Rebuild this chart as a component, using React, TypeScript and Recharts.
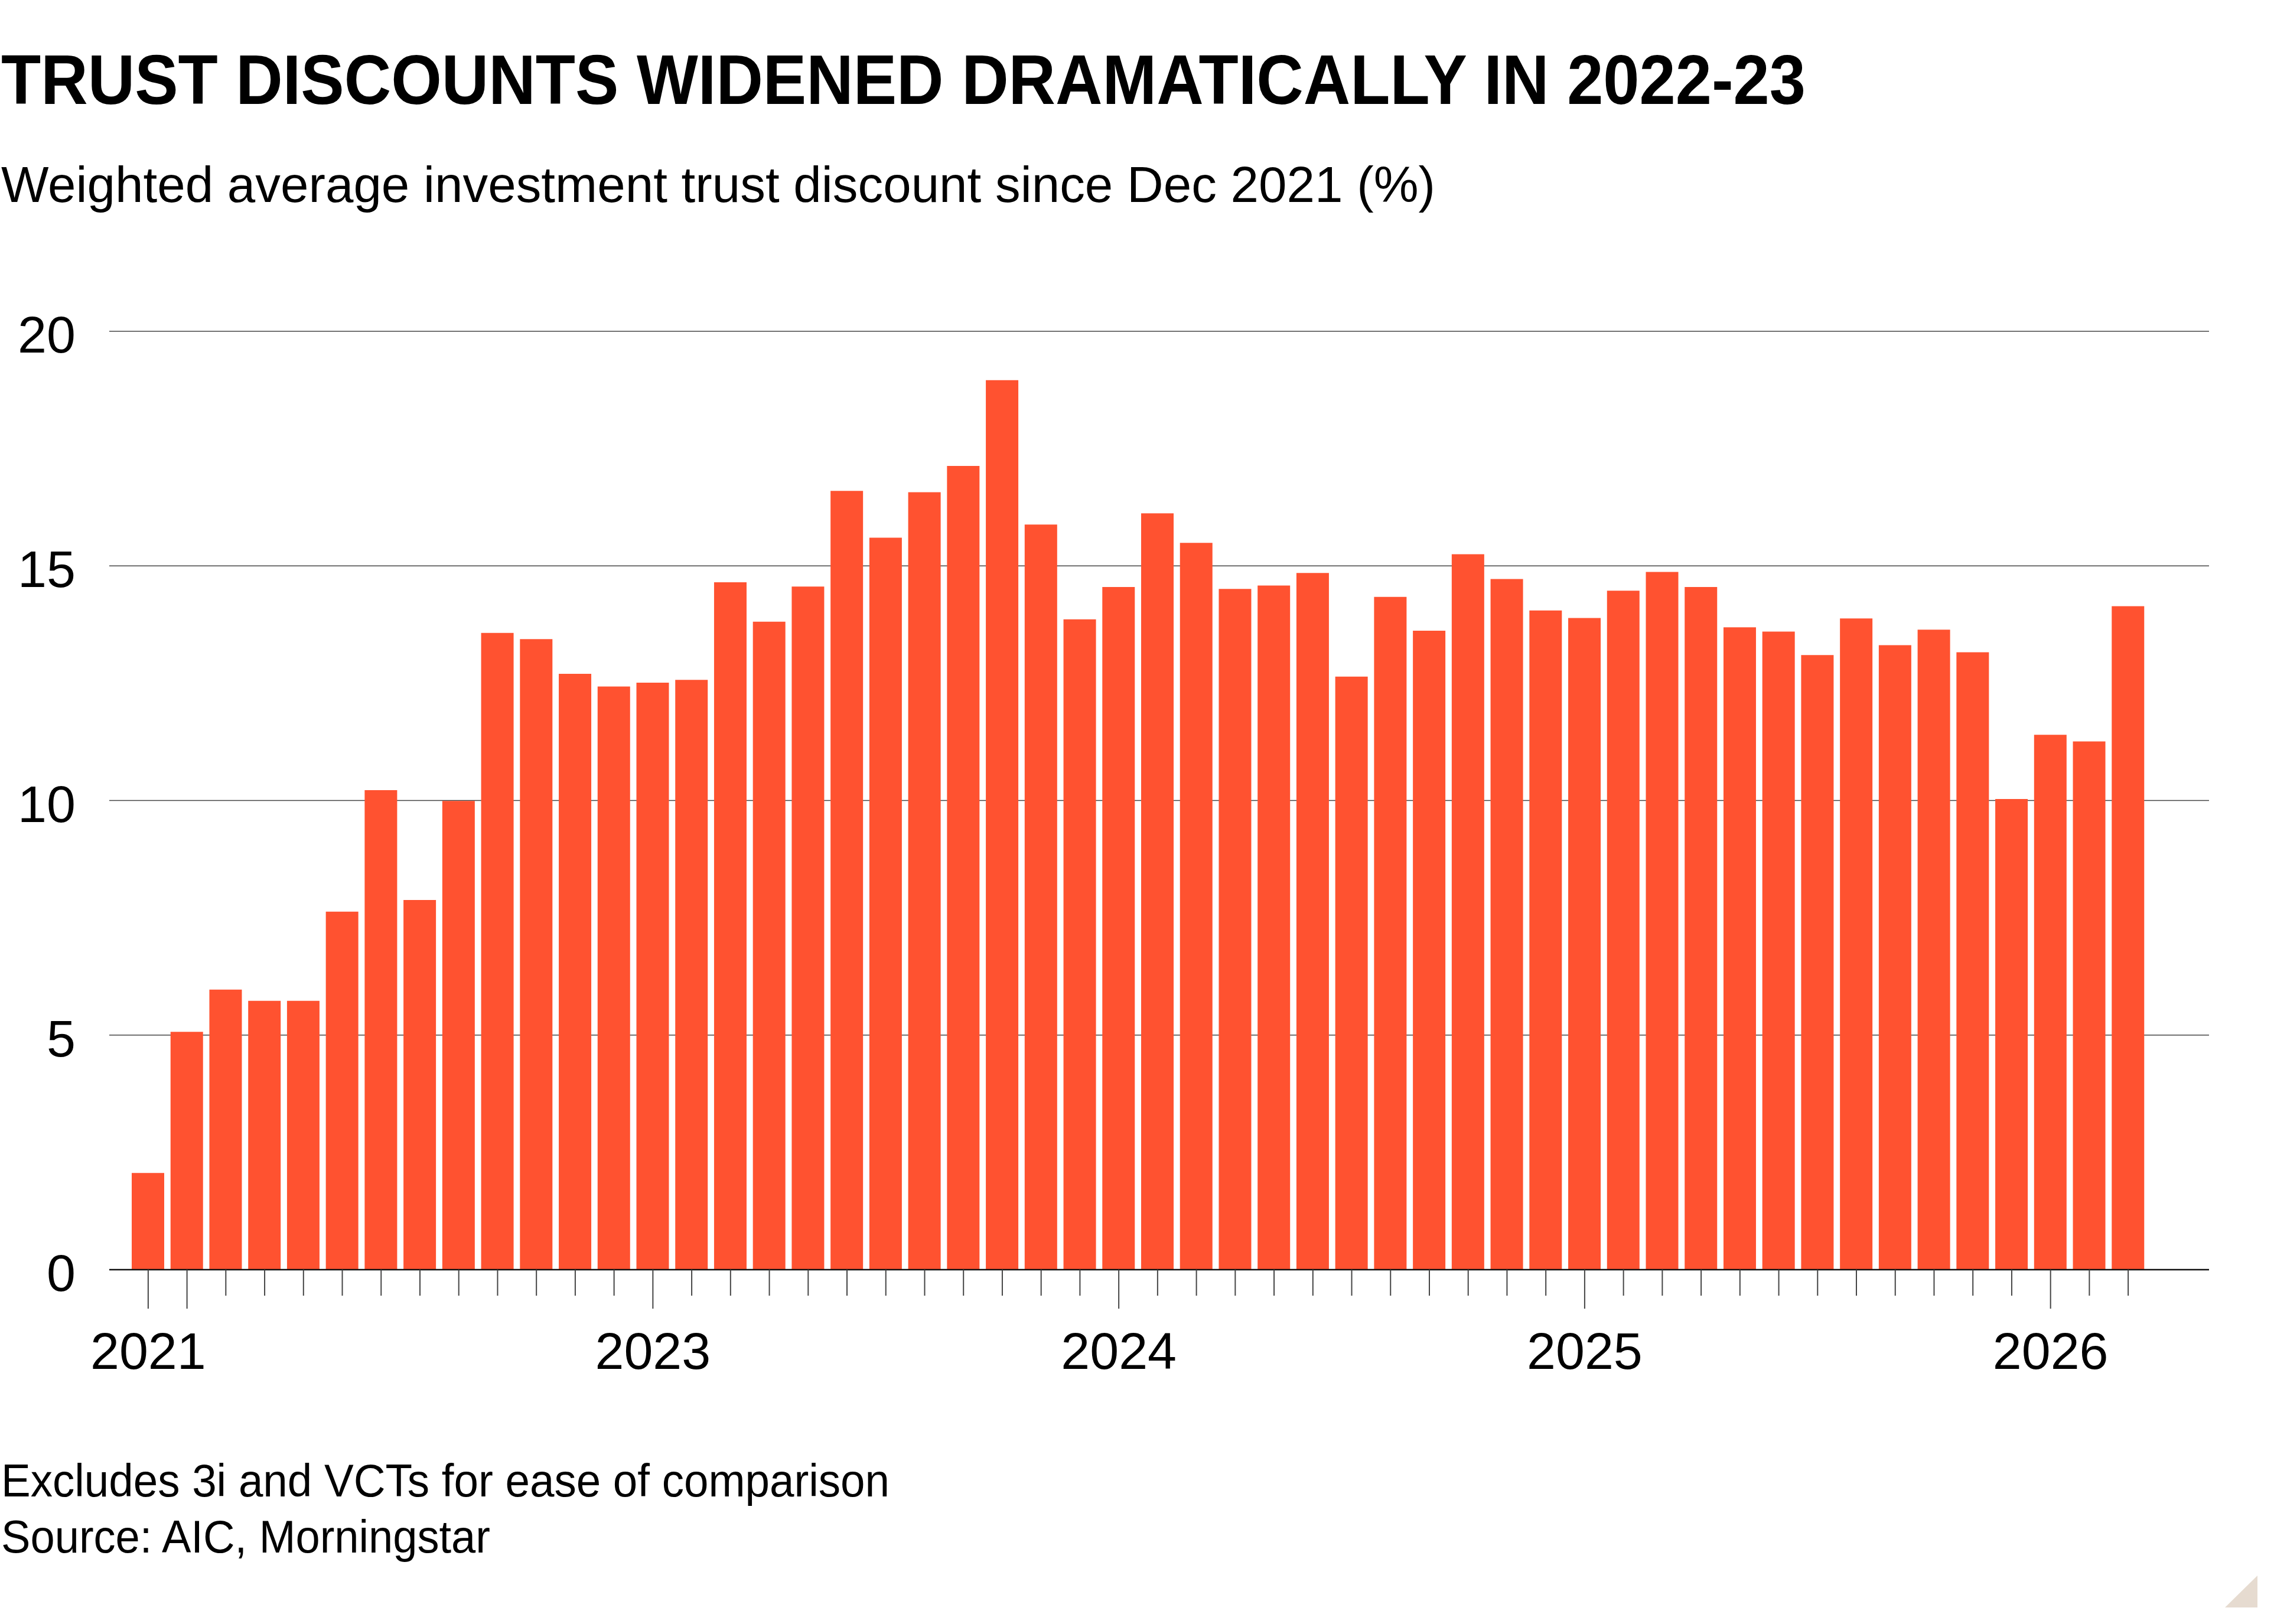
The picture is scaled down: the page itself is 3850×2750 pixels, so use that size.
import { BarChart, Bar, XAxis, YAxis, CartesianGrid } from 'recharts';

const months = [
  'Dec 2021',
  'Jan 2022', 'Feb 2022', 'Mar 2022', 'Apr 2022', 'May 2022', 'Jun 2022',
  'Jul 2022', 'Aug 2022', 'Sep 2022', 'Oct 2022', 'Nov 2022', 'Dec 2022',
  'Jan 2023', 'Feb 2023', 'Mar 2023', 'Apr 2023', 'May 2023', 'Jun 2023',
  'Jul 2023', 'Aug 2023', 'Sep 2023', 'Oct 2023', 'Nov 2023', 'Dec 2023',
  'Jan 2024', 'Feb 2024', 'Mar 2024', 'Apr 2024', 'May 2024', 'Jun 2024',
  'Jul 2024', 'Aug 2024', 'Sep 2024', 'Oct 2024', 'Nov 2024', 'Dec 2024',
  'Jan 2025', 'Feb 2025', 'Mar 2025', 'Apr 2025', 'May 2025', 'Jun 2025',
  'Jul 2025', 'Aug 2025', 'Sep 2025', 'Oct 2025', 'Nov 2025', 'Dec 2025',
  'Jan 2026', 'Feb 2026', 'Mar 2026',
];

const discount = [
  2.06,
  5.07, 5.97, 5.73, 5.73, 7.63, 10.22, 7.88, 9.99, 13.57, 13.44, 12.7, 12.43,
  12.51, 12.57, 14.65, 13.81, 14.56, 16.6, 15.6, 16.57, 17.13, 18.96, 15.88, 13.86,
  14.55, 16.12, 15.49, 14.51, 14.58, 14.85, 12.64, 14.34, 13.62, 15.25, 14.72, 14.05,
  13.89, 14.47, 14.87, 14.55, 13.69, 13.6, 13.1, 13.88, 13.31, 13.64, 13.16, 10.03,
  11.4, 11.26, 14.14,
];

// year labels and which months get a long tick
const yearLabels: Record<string, string> = {
  'Dec 2021': '2021',
  'Jan 2023': '2023',
  'Jan 2024': '2024',
  'Jan 2025': '2025',
  'Jan 2026': '2026',
};
const longTicks = ['Dec 2021', 'Jan 2022', 'Jan 2023', 'Jan 2024', 'Jan 2025', 'Jan 2026'];

const yTicks = [0, 5, 10, 15, 20];

const data = months.map((m, i) => ({ month: m, value: discount[i] }));

const FONT = '"Liberation Sans", Arial, sans-serif';

function MonthTick(props: any) {
  const { x, y, payload } = props;
  const long = longTicks.includes(payload.value);
  const label = yearLabels[payload.value];
  return (
    <g>
      <line x1={x} x2={x} y1={y} y2={y + (long ? 66 : 44)} stroke="#444" strokeWidth={2} />
      {label && (
        <text x={x} y={y + 168} textAnchor="middle" fontSize={88} fill="#000" fontFamily={FONT}>
          {label}
        </text>
      )}
    </g>
  );
}

function ValueTick(props: any) {
  const { y, payload } = props;
  return (
    <text x={128} y={y + 36} textAnchor="end" fontSize={88} fill="#000" fontFamily={FONT}>
      {payload.value}
    </text>
  );
}

export default function App() {
  return (
    <div style={{ position: 'absolute', left: 0, top: 0, width: 3850, height: 2750, background: '#fff' }}>
      <svg
        width={3850}
        height={2750}
        style={{ position: 'absolute', left: 0, top: 0, pointerEvents: 'none' }}
      >
        <text x={2} y={176} fontSize={119} fontWeight={700} fill="#000" fontFamily={FONT}
          textLength={3055} lengthAdjust="spacingAndGlyphs">
          TRUST DISCOUNTS WIDENED DRAMATICALLY IN 2022-23
        </text>
        <text x={2} y={342} fontSize={85} fill="#000" fontFamily={FONT}
          textLength={2428} lengthAdjust="spacingAndGlyphs">
          Weighted average investment trust discount since Dec 2021 (%)
        </text>
        <text x={2} y={2534} fontSize={78} fill="#000" fontFamily={FONT}
          textLength={1504} lengthAdjust="spacingAndGlyphs">
          Excludes 3i and VCTs for ease of comparison
        </text>
        <text x={2} y={2629} fontSize={78} fill="#000" fontFamily={FONT}
          textLength={828} lengthAdjust="spacingAndGlyphs">
          Source: AIC, Morningstar
        </text>
        <polygon points="3767,2722 3822,2668 3822,2722" fill="#E6DBD0" />
      </svg>
      <div style={{ position: 'absolute', left: 0, top: 0 }}>
        <BarChart
          width={3850}
          height={2750}
          data={data}
          margin={{ top: 561, right: 110, bottom: 500, left: 0 }}
          barSize={55}
        >
          <CartesianGrid horizontal vertical={false} stroke="#444" strokeWidth={1.5} />
          <XAxis
            dataKey="month"
            interval={0}
            height={100}
            padding={{ left: 33, right: 104 }}
            axisLine={{ stroke: '#111', strokeWidth: 2.5 }}
            tickLine={false}
            tickSize={0}
            tickMargin={0}
            tick={<MonthTick />}
          />
          <YAxis
            width={185}
            domain={[0, 20]}
            ticks={yTicks}
            interval={0}
            axisLine={false}
            tickLine={false}
            tick={<ValueTick />}
          />
          <Bar dataKey="value" fill="#FF5230" isAnimationActive={false} />
        </BarChart>
      </div>
    </div>
  );
}
